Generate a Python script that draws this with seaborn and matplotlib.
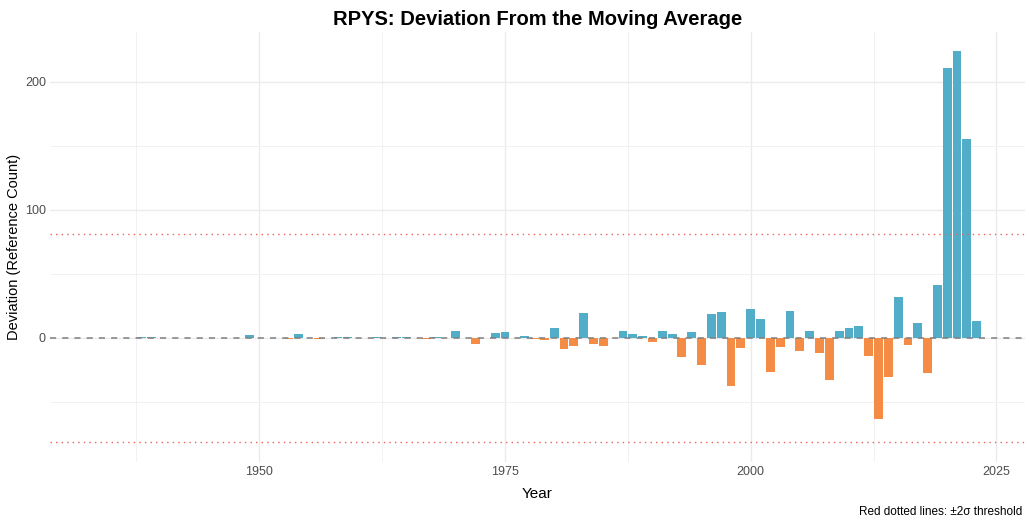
import numpy as np
import pandas as pd
import matplotlib
matplotlib.use("Agg")
import matplotlib.pyplot as plt
import seaborn as sns

# ---- data ----
years = list(range(1934, 2024))
deviation = [
    0, 0, 0, 0, 0.8, 0.8, 0, 0, 0, 0,            # 1934-1943
    0, 0, 0, 0, 0, 1.8, 0, 0, 0, -1.0,           # 1944-1953
    3.0, 0, -1.0, 0, 0.7, 0.7, 0, 0, 0.7, -0.5,  # 1954-1963
    0.7, 0.7, 0, -1.3, 0.7, 0, 4.8, 0, -5.3, 0,  # 1964-1973
    3.3, 4.2, -0.5, 1.0, -1.3, -2.0, 7.3, -9.1, -6.8, 19.0,  # 1974-1983
    -5.2, -6.8, -0.6, 5.0, 2.6, 1.0, -3.6, 5.0, 2.6, -15.4,  # 1984-1993
    4.2, -21.6, 18.2, 19.8, -38.0, -8.3, 22.1, 14.3, -27.1, -7.6,  # 1994-2003
    20.6, -10.7, 5.0, -12.2, -33.3, 5.0, 7.3, 8.9, -14.6, -63.8,  # 2004-2013
    -31.0, 31.5, -6.0, 11.2, -27.9, 40.9, 211.0, 223.7, 155.0, 12.8,  # 2014-2023
]
threshold_upper = 81.3
threshold_lower = -81.9
x_ticks = [1950, 1975, 2000, 2025]
y_ticks = [0, 100, 200]

title = "RPYS: Deviation From the Moving Average"
x_label = "Year"
y_label = "Deviation (Reference Count)"
caption = "Red dotted lines: \u00b12\u03c3 threshold"

df = pd.DataFrame({"year": years, "dev": deviation})
df["sign"] = np.where(df["dev"] >= 0, "pos", "neg")

# ---- style ----
sns.set_theme(style="white")
plt.rcParams["font.family"] = ["Liberation Sans", "DejaVu Sans"]

fig = plt.figure(figsize=(10.29, 5.24), dpi=100)
ax = fig.add_axes([0.0486, 0.118, 0.9474, 0.821])

palette = {"pos": "#52AEC8", "neg": "#F58C45"}
sns.barplot(data=df, x="year", y="dev", hue="sign", palette=palette,
            native_scale=True, dodge=False, width=0.9, errorbar=None,
            saturation=1, legend=False, ax=ax, linewidth=0, zorder=3)

ax.axhline(0, color="#7F7F7F", linestyle=(0, (4, 4)), linewidth=1.1, zorder=4)
ax.axhline(threshold_upper, color="#F06060", linestyle=(0, (1, 3)), linewidth=1.0, zorder=4)
ax.axhline(threshold_lower, color="#F06060", linestyle=(0, (1, 3)), linewidth=1.0, zorder=4)

ax.set_xlim(1928.7, 2027.9)
ax.set_ylim(-97.4, 238.8)

ax.set_xticks(x_ticks)
ax.set_xticks([1937.5, 1962.5, 1987.5, 2012.5], minor=True)
ax.set_yticks(y_ticks)
ax.set_yticks([-50, 50, 150], minor=True)
ax.grid(True, which="major", color="#EBEBEB", linewidth=1.0, zorder=0)
ax.grid(True, which="minor", color="#F1F1F1", linewidth=0.7, zorder=0)
ax.set_axisbelow(True)
for s in ax.spines.values():
    s.set_visible(False)
ax.tick_params(axis="both", which="both", length=0, labelsize=9, labelcolor="#4D4D4D", pad=3)

ax.set_xlabel(x_label, fontsize=11, color="black", labelpad=6)
ax.set_ylabel(y_label, fontsize=10.5, color="black")
ax.yaxis.set_label_coords(-0.03, 0.5)
ax.set_title(title, fontsize=14.5, fontweight="bold", color="black", pad=5)
fig.text(0.993, 0.012, caption, ha="right", va="bottom", fontsize=8.5, color="black")

fig.savefig("out.png", dpi=100, facecolor="white")
